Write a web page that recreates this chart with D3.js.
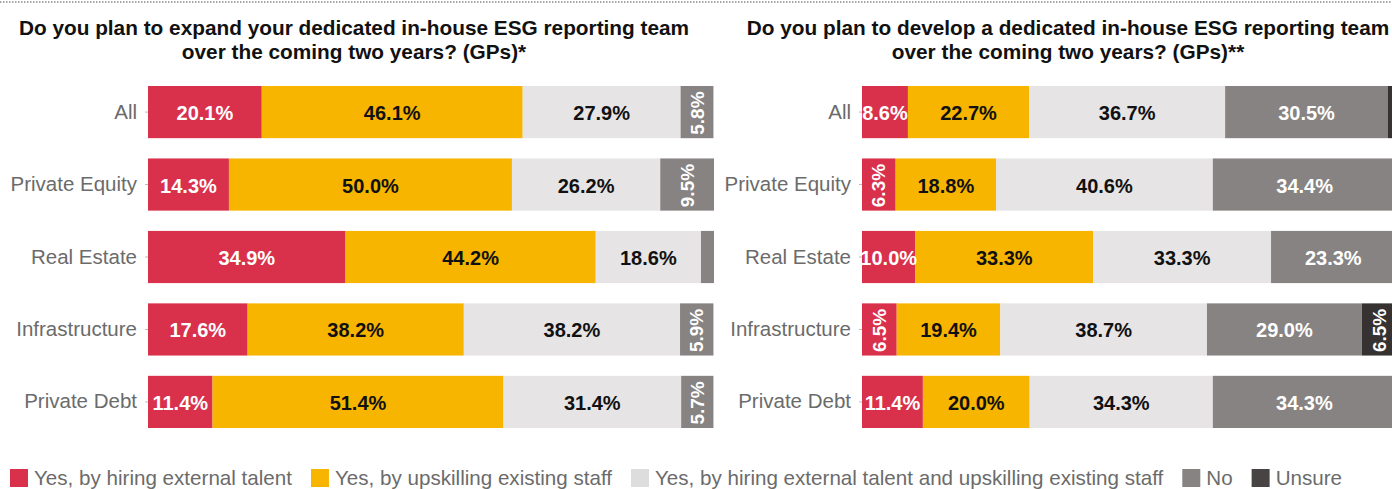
<!DOCTYPE html>
<html>
<head>
<meta charset="utf-8">
<script src="https://cdn.jsdelivr.net/npm/d3@7"></script>
<style>
  html, body { margin: 0; padding: 0; background: #fff; }
  svg { display: block; font-family: "Liberation Sans", Arial, Helvetica, sans-serif; }
</style>
</head>
<body>
<svg id="chart" width="1392" height="489"></svg>
<script>
// Categories (rows) shared by both panels
const categories = ["All", "Private Equity", "Real Estate", "Infrastructure", "Private Debt"];

// Answer options (stack order and legend)
const seriesNames = [
  "Yes, by hiring external talent",
  "Yes, by upskilling existing staff",
  "Yes, by hiring external talent and upskilling existing staff",
  "No",
  "Unsure"
];
const seriesColors = ["#d9304b", "#f7b500", "#e6e4e5", "#878382", "#363231"];
const legendColors = ["#d9304b", "#f7b500", "#dddddd", "#878382", "#484444"];
const labelColors = ["#ffffff", "#111111", "#111111", "#ffffff", "#ffffff"];

// Panel 1: expand an existing team (%)
const expandTitle = ["Do you plan to expand your dedicated in-house ESG reporting team", "over the coming two years? (GPs)*"];
const expandHire    = [20.1, 14.3, 34.9, 17.6, 11.4];
const expandUpskill = [46.1, 50.0, 44.2, 38.2, 51.4];
const expandBoth    = [27.9, 26.2, 18.6, 38.2, 31.4];
const expandNo      = [5.8, 9.5, 2.3, 5.9, 5.7];
const expandUnsure  = [0, 0, 0, 0, 0];

// Panel 2: develop a new team (%)
const developTitle = ["Do you plan to develop a dedicated in-house ESG reporting team", "over the coming two years? (GPs)**"];
const developHire    = [8.6, 6.3, 10.0, 6.5, 11.4];
const developUpskill = [22.7, 18.8, 33.3, 19.4, 20.0];
const developBoth    = [36.7, 40.6, 33.3, 38.7, 34.3];
const developNo      = [30.5, 34.4, 23.3, 29.0, 34.3];
const developUnsure  = [1.5, 0, 0, 6.5, 0];

const svg = d3.select("#chart");
const W = 1392;

// dotted rule across the top
svg.append("line")
  .attr("x1", 0).attr("x2", W).attr("y1", 2).attr("y2", 2)
  .attr("stroke", "#8a8a8a").attr("stroke-width", 1.5)
  .attr("stroke-dasharray", "1.5,1.5");

const y = d3.scaleBand()
  .domain(categories)
  .range([86, 428])
  .paddingInner(0.28)
  .paddingOuter(0);

function buildRows(cols) {
  return categories.map((c, i) => {
    const row = { category: c };
    seriesNames.forEach((s, k) => { row[s] = cols[k][i]; });
    return row;
  });
}

function drawPanel(opts) {
  const g = svg.append("g");
  const x = d3.scaleLinear().domain([0, 100]).range([opts.x0, opts.x1]);

  // title
  const title = g.append("text")
    .attr("x", opts.titleX)
    .attr("text-anchor", "middle")
    .attr("font-weight", "bold")
    .attr("font-size", 20.8)
    .attr("fill", "#111");
  opts.title.forEach((line, i) => {
    title.append("tspan").attr("x", opts.titleX).attr("y", 35 + i * 24).text(line);
  });

  // category axis
  const axis = g.append("g")
    .attr("transform", `translate(${opts.x0},0)`)
    .call(d3.axisLeft(y).tickSize(3).tickPadding(8));
  axis.select(".domain").remove();
  axis.selectAll(".tick line").attr("stroke", "#bbb");
  axis.selectAll(".tick text")
    .attr("font-size", 20.5)
    .attr("fill", "#6b6b6b")
    .attr("font-family", "\"Liberation Sans\", Arial, sans-serif");

  const rows = buildRows(opts.cols);
  const stack = d3.stack().keys(seriesNames)(rows);

  const layers = g.selectAll("g.layer")
    .data(stack)
    .join("g")
    .attr("class", "layer")
    .attr("fill", (d, k) => seriesColors[k]);

  layers.selectAll("rect")
    .data(d => d.filter(p => p[1] - p[0] > 0))
    .join("rect")
    .attr("x", p => x(p[0]))
    .attr("y", p => y(p.data.category))
    .attr("width", p => x(p[1]) - x(p[0]))
    .attr("height", y.bandwidth());

  // value labels
  stack.forEach((layer, k) => {
    layer.forEach(p => {
      const v = p[1] - p[0];
      if (v < 3) return;
      const v1 = Math.round(v * 10) / 10;
      const cx = (x(p[0]) + x(p[1])) / 2;
      const cy = y(p.data.category) + y.bandwidth() / 2;
      const rotate = v1 < opts.rotateBelow;
      const t = g.append("text")
        .attr("text-anchor", "middle")
        .attr("dominant-baseline", "central")
        .attr("font-weight", "bold")
        .attr("font-size", rotate ? 19 : 20)
        .attr("fill", labelColors[k])
        .text(v1.toFixed(1) + "%");
      if (rotate) {
        t.attr("transform", `translate(${cx},${cy + 1}) rotate(-90)`);
      } else {
        t.attr("x", cx).attr("y", cy + 1);
      }
    });
  });
}

drawPanel({
  title: expandTitle, titleX: 354, x0: 148, x1: 714, rotateBelow: 10,
  cols: [expandHire, expandUpskill, expandBoth, expandNo, expandUnsure]
});
drawPanel({
  title: developTitle, titleX: 1068, x0: 862, x1: 1396, rotateBelow: 8,
  cols: [developHire, developUpskill, developBoth, developNo, developUnsure]
});

// legend
const legend = svg.append("g").attr("transform", "translate(10,469)");
let lx = 0;
seriesNames.forEach((name, k) => {
  const item = legend.append("g").attr("transform", `translate(${lx},0)`);
  item.append("rect").attr("width", 18).attr("height", 18).attr("fill", legendColors[k]);
  const t = item.append("text")
    .attr("x", 24).attr("y", 16)
    .attr("font-size", 20.6)
    .attr("fill", "#6b6b6b")
    .text(name);
  lx += 24 + t.node().getComputedTextLength() + 19;
});
</script>
</body>
</html>
